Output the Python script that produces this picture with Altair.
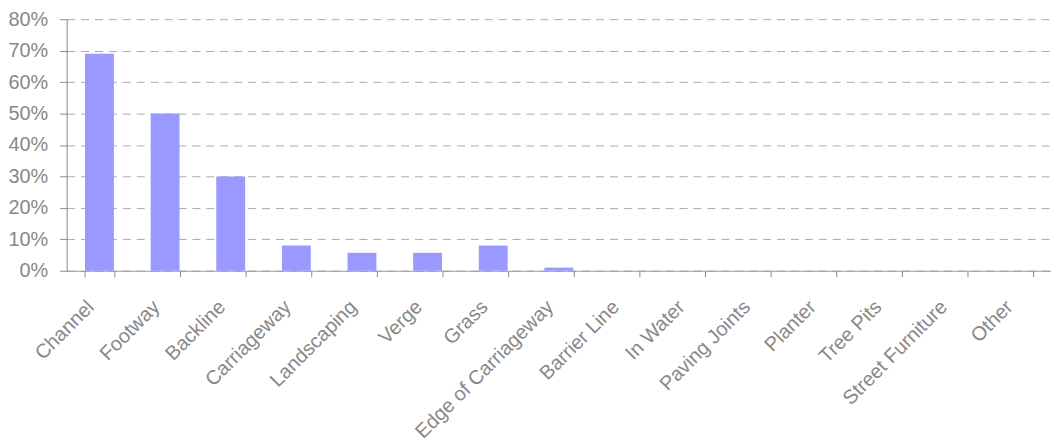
import altair as alt
import pandas as pd

categories = ["Channel", "Footway", "Backline", "Carriageway", "Landscaping", "Verge",
              "Grass", "Edge of Carriageway", "Barrier Line", "In Water", "Paving Joints",
              "Planter", "Tree Pits", "Street Furniture", "Other"]
values = [0.69, 0.50, 0.30, 0.08, 0.057, 0.057, 0.08, 0.01, 0, 0, 0, 0, 0, 0, 0]

df = pd.DataFrame({"cat": categories, "val": values})

chart = alt.Chart(df).mark_bar(color="#9999FF").encode(
    x=alt.X("cat:N", sort=categories, title=None,
            scale=alt.Scale(paddingInner=0.56, paddingOuter=0.28),
            axis=alt.Axis(labelAngle=-45, labelAlign="right", labelBaseline="middle",
                          labelFontSize=20, labelColor="#888888", labelFont="Liberation Sans",
                          labelLimit=0, labelOffset=-9,
                          tickBand="extent", tickSize=6, tickColor="#888888",
                          domainColor="#999999", labelPadding=27, grid=False)),
    y=alt.Y("val:Q", title=None,
            scale=alt.Scale(domain=[0, 0.8]),
            axis=alt.Axis(format=".0%", values=[0, 0.1, 0.2, 0.3, 0.4, 0.5, 0.6, 0.7, 0.8],
                          labelFontSize=20, labelColor="#888888", labelFont="Liberation Sans",
                          gridDash=[8, 6], gridColor="#aaaaaa", tickSize=7, tickColor="#888888",
                          domainColor="#888888", labelPadding=12))
).properties(
    width=990, height=253,
    padding={"left": 59, "top": 10, "right": 0, "bottom": 172},
    autosize=alt.AutoSizeParams(type="none")
).configure_view(stroke=None)

chart.save("out.html", embed_options={"renderer": "svg", "actions": False})
